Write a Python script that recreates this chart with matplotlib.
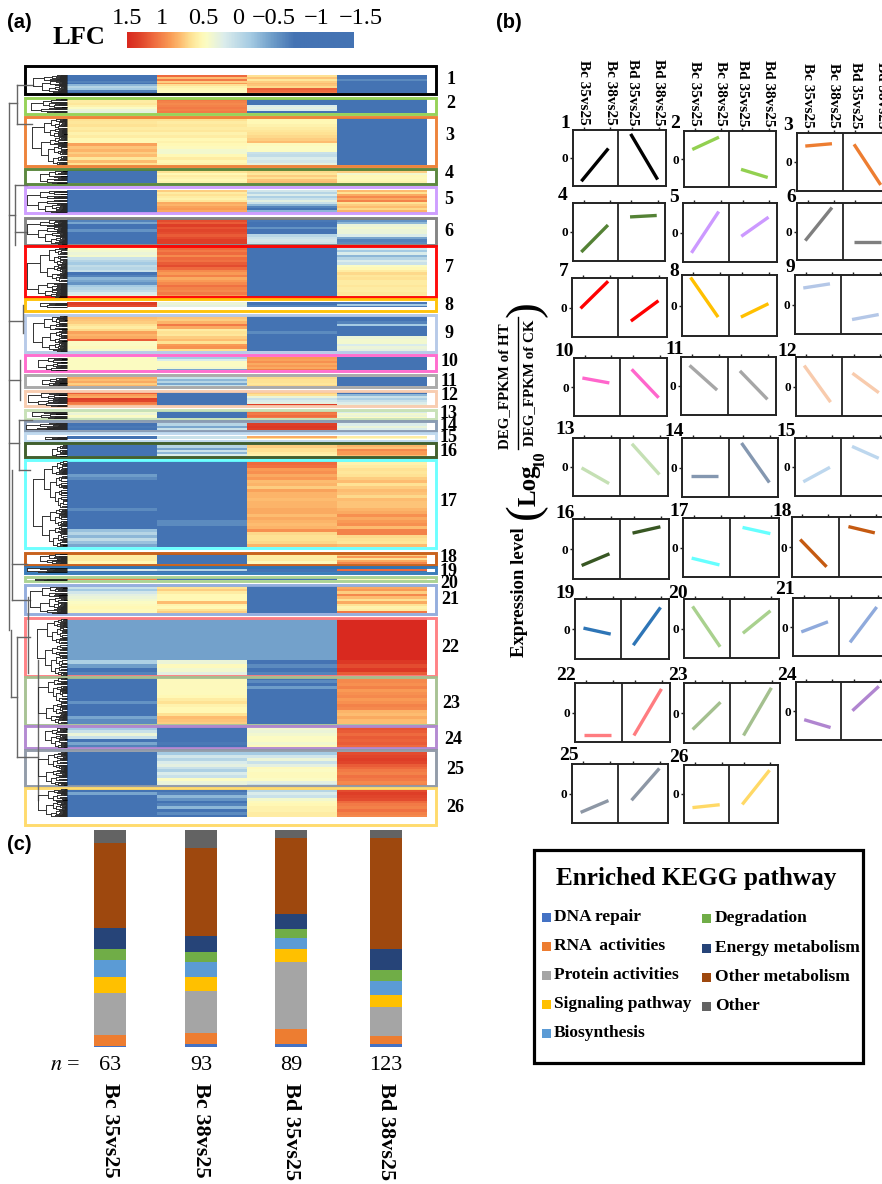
import numpy as np
import matplotlib
matplotlib.use("Agg")
import matplotlib.pyplot as plt
from matplotlib.colors import LinearSegmentedColormap
from matplotlib.patches import Rectangle

W, H = 882, 1184
SERIF = "Liberation Serif"
SANS = "Liberation Sans"
B = -1.05

# ---- heatmap values, one list per cluster, stripes from top to bottom
bc35 = [
    [-1.1, -1.1, -1.1, -.9, -1.0, -.6, -.4, -.5, -.9, -1.0],
    [.2, .2, .25, .15, 0, -.1, -.15],
    [.3, .25, .3, .2, .25, .15, .2, .1, .1, .65, .45, .55, .4, .5, .25, .5, .3],
    [B],
    [B],
    [-.9, -.7, -1, -1, -.8, -1, -1, B, -1, B],
    [0, -.05, -.1, -.05, -.3, -.4, -.5, -.35, -.4, -.3, -1, -.9, -.6, -.7, -.8, -.5, -.4, -.35, -.2, -.1],
    [1.3, 1.2],
    [.5, .45, .4, .3, .2, .35, .65, .55, .6, 1.1, 0, 0, .05, -.05],
    [.02],
    [.6, .5, .6, .4, .55],
    [1.1, .7, .6, 1.3, 1.25, .9, .8],
    [-.05, -.1, 0, -.05],
    [-1, -.95, -1],
    [B],
    [B],
    [B, B, B, B, -.75, -.85, B, B, B, B, B, B, B, B, B, -.85, B, B, B, B, B, B, -.55, -.4, -.6, -.35, -.55, -.7],
    [.2, .2, .1],
    [B, -.2, B],
    [.9],
    [-.3, -.5, -.25, -.15, -.1, -.05, 0, .05, .1, .05, .1],
    [-.72] * 10 + [-.45, -.75, -1, -.9],
    [B, B, B, B, B, B, B, B, -.8, B, B, B, B, -.7, -.85, -.85],
    [-.5, -.3, -.1, -.3, -1, -.7, -.9],
    [B],
    [-1, -.7, B, B, B, B, B, B, B, B],
]
bc38 = [
    [1.0, .5, .9, .4, .7, .3, .15, .1, .05, .05],
    [.9, .85, .8, .85, .9, .85, .9],
    [.3, .2, .25, .2, .25, .15, .2, .1, .15, .1, .05, -.05, -.05, .1, .2, .1, .15],
    [.3, .1, .2, .15, .1, .15],
    [.4, .2, .3, .2, .15, .25, .6, .55, .65, .7, .6, .5],
    [1.2, 1.1, 1.3, 1.15, 1.25, 1.2, 1.1, 1.2, 1.3, 1.3],
    [1, .9, 1, .8, 1, .95, 1.1, 1.2, 1, .8, .7, .85, .6, .7, .8, .95, .85, .8, .9, .7],
    [-.1, -.15],
    [.45, .4, .55, .9, .6, .2, .3, .25, .4, .5, .3, .7, .75, .3],
    [-.5, -.2, 0, 0, 0, -.05, -.7],
    [-.3, -.6, -.4, -.7, -.3],
    [B],
    [B],
    [-.4, -.7, -.3],
    [-.3],
    [-.4, -.7, -.3, -.6, -.2],
    [B, B, B, B, B, B, B, B, B, B, B, B, B, B, B, B, B, B, B, -.85, -.85, B, B, B, B, B, B, B],
    [B],
    [-1, -.4, -1],
    [-1],
    [.3, .4, .2, .1, .1, .1, .5, .15, .1, .3, .4],
    [-.72] * 10 + [-.1, .05, -.05, -.15],
    [.05, .05, .05, .05, .05, .05, .1, .2, .3, .15, .1, .1, .3, .5, .45, .4],
    [B, B, B, -1, B, -.95, B],
    [-.5, -.25, -.4, -.2, -.15, -.3, -.45, -.2, -.3, 0, -.1, -.15],
    [B, -.9, -.6, -.8, B, -.9, -.6, B, -.85, B],
]
bd35 = [
    [.3, .45, .25, .4, .5, .45, .35, 1.1, 1.0, .9],
    [-1.1, -1.1, -1.05, -.2, -.15, -.2, -1],
    [.1, .1, .15, .2, .25, .3, .35, .4, .5, .05, 0, 0, -.3, -.35, -.2, -.25, -.15],
    [.35, .25, .4, .3, .45, .5],
    [-.25, -.4, -.2, -.45, -.3, -.15, -.3, -.6, -.9, B, -.6, -.25],
    [-.95, -1, B, -.8, -1, -1, -.4, -.3, -.25, -.3],
    [B],
    [-1, -.9],
    [B, B, B, B, B, B, -.85, B, B, B, B, B, B, B],
    [.7, .65, .75, .6, .7, .6, .85],
    [.35, .3, .3, .25, .35],
    [.4, .3, -.1, -.3, -.2, -.15, 1.3],
    [.95, .9, 1, .9],
    [1.3, 1.35, 1.3],
    [.6, .3],
    [.4, .3, .3, .2, .15],
    [1.0, .95, .7, .75, .6, .7, .5, .55, .4, .65, .55, .55, .5, .55, .55, .6, .6, .5, .6, .55, .5, .55, .75, .35, .3, .3, .35, .55],
    [.2, .2, .05],
    [B],
    [-1],
    [B],
    [-.72] * 10 + [-1, -.85, -1, -.9],
    [-1, -.85, -1, -.75, B, B, B, B, B, B, B, B, B, B, B, B],
    [-.05, -.1, -.05, 0, 0, -.05, .05],
    [-.5, -.25, -.1, -.3, -.15, .05, 0, .05, .05, 0, -.15, -.3],
    [-.4, -.2, -.3, -.05, .05, .1, .15, .15, .2, .2],
]
bd38 = [
    [-1, -1, -.85, -1.1, -1.1, -1.1, -1.1, -1.1, -1.1, -1.1],
    [-1.1],
    [-1.1],
    [.4, -.05, .1, .05, .1, .15],
    [.5, .3, .6, .8, .6, .85, .3, .4, .5, .35, .55, .45],
    [-.8, -.6, -.1, -.05, -.1, -.1, -.2, -.7, -.9, -.85],
    [-.25, -.5, -.2, -.6, -.4, -.2, -.3, 0, .1, .2, .35, .25, .3, .2, .2, .25, .2, .2, .25, .2],
    [-.95, -.5, -.95],
    [B, B, -.9, -.5, B, B, B, B, -.1, -.05, -.05, -.2, -.1, -.15],
    [B],
    [B],
    [-1, -.6, -.3, -.45, -.3, -.2, -.15],
    [-.2, -.05, -.1, 0],
    [-.2, -.1, -.2],
    [.2, 0],
    [.55, .45, .8, .7, .7, .5],
    [.15, .2, .3, .25, .3, .4, .5, .3, .4, .5, .45, .35, .5, .45, .45, .55, .6, .75, .6, .7, .75, .5, .85, .85, .35, .3, .25, .5],
    [.4, .7, .3, .6, .8],
    [B, 1.0, B],
    [0],
    [.6, .7, .4, .8, .5, .3, .6, .3, .15, .2, .9],
    [1.5] * 10 + [1.35, 1.2, 1.35, 1.1],
    [.8, .8, .75, .85, .7, .75, .8, .7, .75, .85, .8, .55, .5, .6, .5, .5],
    [1.15, 1.1, 1, 1.1, 1.05, 1.1, 1.0],
    [1.2, 1.25, 1.3, 1.25, 1.1, 1.0, .9, .85, .95, .9, .8, .85],
    [1.2, 1.3, 1.25, 1.2, 1.0, .9, .85, .95, .85, .8],
]

# cluster extents in the heatmap (px rows), frames and colours
cluster_rows = [(75, 93), (99, 113), (118, 165), (170, 183), (190, 213), (219, 244), (247, 297),
                (302, 307), (316, 351), (357, 370), (377, 386), (392, 406), (411, 418), (423, 430),
                (436, 439), (445, 456), (461, 547), (554, 564), (567, 572), (578, 580), (586, 613),
                (618, 676), (677, 724), (727, 748), (752, 786), (789, 817)]
frame_rows = [(66, 94), (98, 114), (117, 166), (169, 184), (187, 213), (218, 245), (246, 297),
              (299, 311), (315, 352), (355, 371), (375, 387), (391, 406), (410, 419), (421, 431),
              (433, 441), (443, 457), (460, 548), (553, 565), (567, 573), (577, 581), (585, 614),
              (618, 676), (677, 725), (726, 748), (750, 786), (788, 825)]
cluster_colors = ["#000000", "#92d050", "#ed7d31", "#548235", "#cc99ff", "#7f7f7f", "#ff0000",
                  "#ffc000", "#b4c7e7", "#ff66cc", "#a6a6a6", "#f8cbad", "#c5e0b4", "#8497b0",
                  "#bdd7ee", "#385723", "#66ffff", "#c55a11", "#2e75b6", "#a9d18e", "#8faadc",
                  "#ff7c80", "#a4c08f", "#b085d0", "#8d97a5", "#ffd966"]
cluster_label_y = [79, 103, 136, 174, 200, 232, 268, 305, 333, 362, 381, 396, 413, 425, 438, 451,
                   502, 558, 571, 583, 600, 647, 703, 739, 769, 808]
cluster_label_x = [451, 451, 450, 449, 449, 449, 449, 449, 449, 449, 449, 450, 449, 449, 449, 449,
                   449, 449, 449, 449, 450, 450, 451, 453, 455, 455]
tree_root_x = [33, 31, 32, 40, 27, 27, 27, 40, 33, 38, 42, 28, 32, 26, 45, 52, 33, 40, 27, 35, 30,
               37, 38, 45, 38, 38]
upper_tree = [[(9, 103), (9, 630)], [(9, 103), (17, 103)], [(17, 85), (17, 124)], [(17, 85), (33, 85)],
              [(17, 124), (32, 124)], [(9, 215), (15, 215)], [(15, 185), (15, 245)], [(15, 185), (27, 185)],
              [(15, 232), (27, 232)], [(9, 321), (23, 321)], [(23, 305), (23, 333)], [(9, 380), (20, 380)],
              [(20, 360), (20, 400)], [(9, 443), (19, 443)], [(19, 420), (19, 470)], [(19, 420), (32, 420)],
              [(19, 470), (30, 470)], [(12, 470), (12, 600)], [(12, 564), (27, 564)], [(12, 600), (30, 600)],
              [(11, 630), (11, 697)], [(11, 697), (17, 697)], [(17, 637), (17, 757)], [(17, 637), (30, 637)],
              [(28, 597), (28, 673)], [(17, 757), (38, 757)], [(38, 660), (38, 800)]]
split_ratios = [.62, .4, .55, .3, .7, .5, .45, .35, .6]

# ---- small expression profiles, [Bc35, Bc38, Bd35, Bd38] per cluster
profile_values = [
    [-.83, .34, .86, -.77], [.34, .78, -.37, -.66], [.55, .63, .61, -.79], [-.69, .24, .52, .57],
    [-.69, .71, -.13, .52], [-.32, .84, -.36, -.36], [-.03, .89, -.46, .23], [.92, -.38, -.38, .06],
    [.56, .70, -.51, -.34], [.31, .14, .61, -.37], [.71, -.14, .52, -.46], [.71, -.53, .45, -.21],
    [-.03, -.57, .80, -.26], [-.3, -.3, .83, -.51], [-.51, -.01, .71, .30], [-.55, -.16, .53, .74],
    [-.36, -.59, .68, .47], [.25, -.66, .68, .47], [.03, -.17, -.54, .72], [.75, -.62, -.16, .60],
    [-.17, .18, -.53, .69], [-.75, -.75, -.78, .80], [-.55, .36, -.75, .84], [-.30, -.57, .01, .85],
    [-.64, -.24, -.23, .85], [-.47, -.37, -.36, .82],
]
comparisons = ["Bc 35vs25", "Bc 38vs25", "Bd 35vs25", "Bd 38vs25"]
# panel box in px: x0, x1, y0, y1, divider x
panel_boxes = [
    (573, 666, 130, 186, 618), (684, 776, 131, 187, 729), (797, 889, 133, 191, 843),
    (573, 665, 203, 261, 618), (683, 777, 203, 262, 729), (797, 889, 203, 260, 843),
    (572, 667, 278, 337, 618), (682, 777, 275, 336, 729), (795, 887, 275, 334, 841),
    (574, 667, 358, 416, 620), (681, 776, 357, 415, 728), (796, 887, 357, 416, 842),
    (573, 668, 438, 496, 620), (682, 778, 438, 497, 729), (795, 887, 438, 496, 841),
    (573, 669, 519, 579, 620), (683, 779, 518, 577, 730), (792, 883, 517, 577, 839),
    (575, 669, 599, 659, 621), (684, 779, 599, 658, 730), (793, 885, 598, 656, 839),
    (575, 670, 683, 742, 622), (684, 780, 683, 743, 730), (796, 887, 682, 740, 841),
    (572, 668, 764, 823, 618), (684, 778, 765, 823, 729),
]
panel_number_xy = [(565, 123), (675, 123), (788, 126), (563, 195), (674, 197), (791, 197), (564, 272),
                   (674, 272), (790, 268), (564, 352), (675, 349), (787, 351), (565, 430), (674, 431),
                   (786, 431), (565, 513), (679, 511), (782, 511), (565, 594), (678, 594), (785, 590),
                   (566, 676), (678, 676), (787, 675), (569, 756), (679, 757)]
profile_x = [.09, .38, .62, .91]

# ---- stacked bars (percent of pathways)
pathways = ["DNA repair", "RNA  activities", "Protein activities", "Signaling pathway", "Biosynthesis",
            "Degradation", "Energy metabolism", "Other metabolism", "Other"]
pathway_colors = ["#4472c4", "#ed7d31", "#a5a5a5", "#ffc000", "#5b9bd5", "#70ad47", "#264478", "#9e480e", "#636363"]
share_bc35 = [.6, 4.9, 19.4, 7.4, 7.9, 4.9, 9.7, 39.0, 6.2]
share_bc38 = [1.2, 5.2, 19.5, 6.3, 6.9, 4.8, 7.2, 40.8, 8.0]
share_bd35 = [1.2, 7.2, 30.7, 6.1, 4.9, 4.1, 6.9, 35.0, 3.7]
share_bd38 = [1.4, 3.8, 13.2, 5.4, 6.8, 5.1, 9.5, 51.1, 3.7]
gene_counts = [63, 93, 89, 123]
bar_centers = [110, 201, 291, 386]

lfc_ticks = ["1.5", "1", "0.5", "0", "\u22120.5", "\u22121", "\u22121.5"]
lfc_tick_x = [127, 162, 203, 238, 274, 317, 361]

lfc_stops = [(-1.5, "#4473b3"), (-1.0, "#4473b3"), (-.75, "#6e9dc9"), (-.5, "#a5cbe3"), (-.2, "#dcedec"),
             (0, "#fbfcc4"), (.1, "#fff8b5"), (.3, "#fee294"), (.5, "#fdbc70"), (.7, "#f99a55"),
             (1.0, "#ef6b3f"), (1.3, "#de3f28"), (1.5, "#d9291f")]
lfc_cmap = LinearSegmentedColormap.from_list("lfc", [((v + 1.5) / 3.0, c) for v, c in lfc_stops])
lfc_cmap.set_bad("white")


def px_axes(fig, x0, x1, y0, y1, **kw):
    return fig.add_axes([x0 / W, 1 - y1 / H, (x1 - x0) / W, (y1 - y0) / H], **kw)


def draw_tree(ax, y0, y1, x, depth=0):
    # simple binary dendrogram down to the leaves at x=67
    if y1 - y0 < 1.6 or x > 63:
        ax.plot([x, 67], [(y0 + y1) / 2] * 2, color="#000000", lw=.6, solid_capstyle="butt")
        return (y0 + y1) / 2
    r = split_ratios[(depth + int(y0)) % len(split_ratios)]
    mid = y0 + (y1 - y0) * r
    step = max(2.5, (67 - x) * .33)
    a = draw_tree(ax, y0, mid, x + step, depth + 1)
    b = draw_tree(ax, mid, y1, x + step * .8, depth + 2)
    ax.plot([x + step, x], [a, a], color="#333333", lw=.7)
    ax.plot([x + step * .8, x], [b, b], color="#333333", lw=.7)
    ax.plot([x, x], [a, b], color="#333333", lw=.7)
    return (a + b) / 2


fig = plt.figure(figsize=(W / 100, H / 100), dpi=100)

# heatmap
top, bottom = 75, 817
matrix = np.full((bottom - top, 4), np.nan)
for j, col in enumerate([bc35, bc38, bd35, bd38]):
    for vals, (y0, y1) in zip(col, cluster_rows):
        h = y1 - y0
        idx = (np.arange(h) * len(vals)) // h
        matrix[y0 - top:y1 - top, j] = np.array(vals)[idx]
ax = px_axes(fig, 67, 427, top, bottom)
ax.imshow(matrix, cmap=lfc_cmap, vmin=-1.5, vmax=1.5, aspect="auto", interpolation="nearest")
ax.axis("off")

# colour bar
cbar = px_axes(fig, 127, 353, 32, 48)
pos = np.linspace(0, 1, 300)
# the gradient is not evenly spaced along the bar in the reference
cbar.imshow(np.interp(pos, [0, .35, .74, 1], [1.5, 0, -1, -1.5])[None, :], cmap=lfc_cmap, vmin=-1.5, vmax=1.5,
            aspect="auto")
cbar.axis("off")

# overlay in pixel coordinates for dendrogram, frames and text
ov = fig.add_axes([0, 0, 1, 1], zorder=5)
ov.set_xlim(0, W)
ov.set_ylim(H, 0)
ov.axis("off")
ov.patch.set_alpha(0)

for seg in upper_tree:
    ov.plot(*zip(*seg), color="#666666", lw=1.0)
for (y0, y1), rx in zip(cluster_rows, tree_root_x):
    draw_tree(ov, y0, y1, rx)

for (y0, y1), c, ly, lx, num in zip(frame_rows, cluster_colors, cluster_label_y, cluster_label_x, range(1, 27)):
    ov.add_patch(Rectangle((25, y0), 411, y1 - y0, fill=False, ec=c, lw=2.1, alpha=.95 if c != "#000000" else 1))
    ov.text(lx, ly, str(num), family=SERIF, weight="bold", fontsize=13, ha="center", va="center")

ov.text(7, 22, "(a)", family=SANS, weight="bold", fontsize=14.5, va="center")
ov.text(496, 22, "(b)", family=SANS, weight="bold", fontsize=14.5, va="center")
ov.text(7, 845, "(c)", family=SANS, weight="bold", fontsize=14.5, va="center")
ov.text(79, 38, "LFC", family=SERIF, weight="bold", fontsize=19, ha="center", va="center")
for t, x in zip(lfc_ticks, lfc_tick_x):
    ov.text(x, 19, t, family=SERIF, fontsize=17.5, ha="center", va="center")

# small profile panels
for i, (vals, box) in enumerate(zip(profile_values, panel_boxes)):
    x0, x1, y0, y1, div = box
    a = px_axes(fig, x0, x1, y0, y1)
    c = cluster_colors[i]
    a.plot(profile_x[:2], vals[:2], color=c, lw=2.4, solid_capstyle="butt")
    a.plot(profile_x[2:], vals[2:], color=c, lw=2.4, solid_capstyle="butt")
    a.axvline((div - x0) / (x1 - x0), color="#222222", lw=1.3)
    a.set_xlim(0, 1)
    a.set_ylim(-1, 1)
    a.xaxis.tick_top()
    a.set_xticks([.115, .40, .635, .92])
    a.set_yticks([0])
    a.set_yticklabels(["0"], family=SERIF, weight="bold", fontsize=9.5)
    a.tick_params(axis="both", length=2.5, width=1, pad=1, color="#222222")
    if i < 3:
        a.set_xticklabels(comparisons, family=SERIF, weight="bold", fontsize=11, rotation=-90, ha="center", va="bottom")
    else:
        a.set_xticklabels([])
    for s in a.spines.values():
        s.set_linewidth(1.4)
        s.set_color("#222222")
    nx, ny = panel_number_xy[i]
    ov.text(nx, ny, str(i + 1), family=SERIF, weight="bold", fontsize=14, ha="center", va="center")

# y label of panel b
ov.text(519, 592, "Expression level", family=SERIF, weight="bold", fontsize=13.5, rotation=90, ha="center", va="center")
ov.text(526, 511, "(", family=SERIF, fontsize=34, rotation=90, ha="center", va="center")
ov.text(529, 485, "Log", family=SERIF, weight="bold", fontsize=18, rotation=90, ha="center", va="center")
ov.text(540, 459, "10", family=SERIF, weight="bold", fontsize=12, rotation=90, ha="center", va="center")
ov.text(505, 386, "DEG_FPKM of HT", family=SERIF, weight="bold", fontsize=10.8, rotation=90, ha="center", va="center")
ov.text(530, 383, "DEG_FPKM of CK", family=SERIF, weight="bold", fontsize=10.8, rotation=90, ha="center", va="center")
ov.plot([518, 518], [317, 449], color="black", lw=1)
ov.text(526, 309, ")", family=SERIF, fontsize=34, rotation=90, ha="center", va="center")

# stacked bars
bars = px_axes(fig, 60, 430, 830, 1047)
bottoms = np.zeros(4)
shares = np.array([share_bc35, share_bc38, share_bd35, share_bd38])
for k, (name, col) in enumerate(zip(pathways, pathway_colors)):
    bars.bar(bar_centers, shares[:, k], width=32, bottom=bottoms, color=col, label=name)
    bottoms += shares[:, k]
bars.set_xlim(60, 430)
bars.set_ylim(0, 100)
bars.axis("off")

ov.text(65, 1066, "$\\mathit{n}$ =", family=SERIF, fontsize=16, ha="center", va="center", math_fontfamily="stix")
for x, n, name in zip(bar_centers, gene_counts, comparisons):
    ov.text(x, 1066, str(n), family=SERIF, fontsize=16, ha="center", va="center")
    ov.text(x, 1083, name, family=SERIF, weight="bold", fontsize=16, rotation=-90, ha="center", va="top")

# legend box
ov.add_patch(Rectangle((534, 850), 329, 213, fill=False, ec="black", lw=2.3))
ov.text(696, 878, "Enriched KEGG pathway", family=SERIF, weight="bold", fontsize=18.2, ha="center", va="center")
legend_y = [917, 946, 975, 1004, 1033, 918, 948, 977, 1006]
for k, (name, col, y) in enumerate(zip(pathways, pathway_colors, legend_y)):
    sx, tx = (542, 554) if k < 5 else (702, 715)
    ov.add_patch(Rectangle((sx, y - 4), 8.5, 8.5, color=col, lw=0))
    ov.text(tx, y, name, family=SERIF, weight="bold", fontsize=12.5, va="center")

fig.savefig("out.png", dpi=100)
